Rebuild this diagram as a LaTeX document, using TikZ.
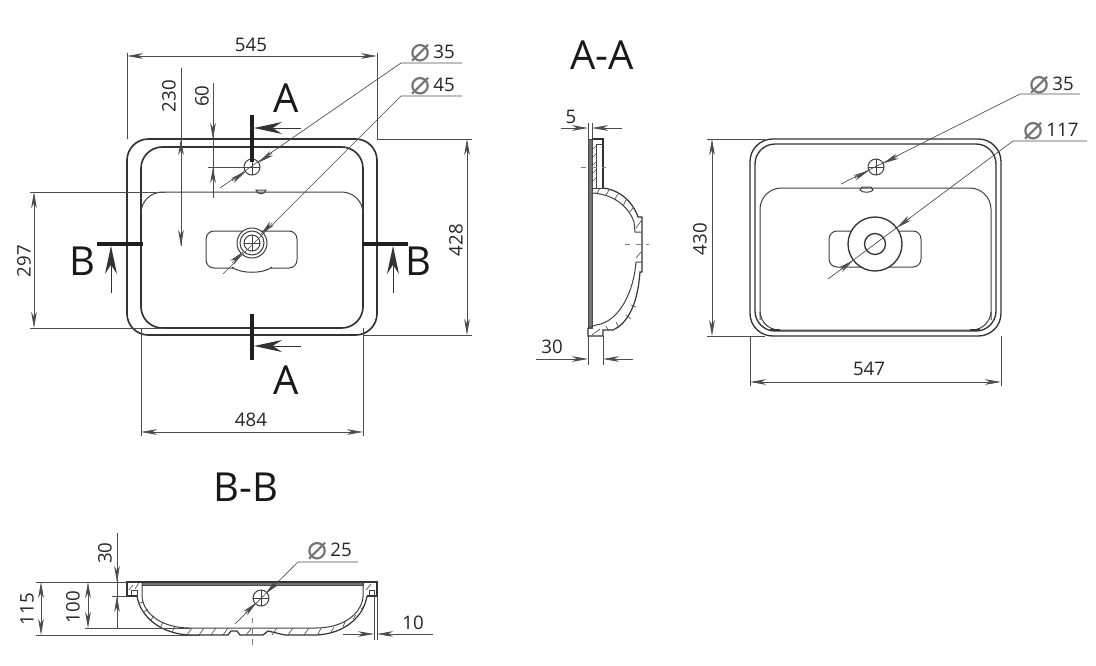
\documentclass[tikz,border=0pt]{standalone}
\usepackage{fontspec}
\setmainfont{Open Sans}
\newfontfamily\symfont{DejaVu Sans}
\usetikzlibrary{arrows.meta, calc, positioning}
\newcommand{\dia}{\raisebox{-2.5pt}{\color{black!55}\symfont\fontsize{25}{25}\selectfont ⌀}\,}
\newcommand{\dialeader}[5]{%
	\draw [dimline] (#2) -- (#3) -- (#4);
	\draw [dimline, ->] ($(#1)!#5pt+12pt!(#3)$) -- ($(#1)!#5pt!(#3)$);
	\draw [dimline, ->] ($(#1)!-#5pt-12pt!(#3)$) -- ($(#1)!-#5pt!(#3)$);
}
\tikzset
{%
outline/.style={draw=black!80, line width=1.25pt},
thinline/.style={draw=black!75, line width=0.75pt},
dimline/.style={draw=black!70, line width=0.5pt, >={Stealth[length=12pt, width=4.2pt, inset=3.5pt]}},
cutline/.style={draw=black!88, line width=2.8pt},
cutarrow/.style={draw=black!80, line width=0.7pt, -{Stealth[length=21pt, width=9pt, inset=7pt]}},
hatch/.style={draw=black!70, line width=0.5pt},
centre/.style={draw=black!50, line width=0.4pt, dash pattern=on 4pt off 4pt},
dimtext/.style={font=\fontsize{14}{15}\selectfont, text=black!85, inner sep=0pt},
bigtext/.style={font=\fontsize{30}{31}\selectfont, text=black!90, inner sep=0pt},
hole/.pic={
	\draw [thinline] (0,0) circle (8);
	\draw [thinline] (-8,0) -- (8,0) (0,-8) -- (0,8);
}
}
\begin{document}
\begin{tikzpicture}[x=0.75pt, y=-0.75pt]
	\useasboundingbox (0,0) rectangle (1096,665);
	%Top view
	\begin{scope}
		\coordinate (tophole) at (252,167);
		\coordinate (topdrain) at (252,243);
		\draw [outline, rounded corners=16pt] (127,139) rectangle (377,335);
		\draw [outline, rounded corners=16pt] (141,147) rectangle (363,328);
		\draw [thinline, rounded corners=16pt] (141,214) -- (141,192) -- (363,192) -- (363,214);
		\draw [thinline] (256,190) .. controls (257,195) and (265,195) .. (266,190) -- cycle;
		\draw [thinline, rounded corners=6pt] (206,231) rectangle (297,268);
		\draw [thinline, fill=white] (232,267) .. controls (240,274) and (264,274) .. (272,267);
		\draw [thinline, fill=white] (topdrain) circle (15);
		\draw [thinline] (topdrain) circle (12);
		\pic at (topdrain) {hole};
		\pic at (tophole) {hole};
		%Section marks
		\draw [cutline] (252,115) -- (252,162);
		\draw [cutline] (252,314) -- (252,360);
		\draw [cutline] (97,244) -- (143,244);
		\draw [cutline] (362,244) -- (408,244);
		\draw [cutarrow] (301,128) -- (254,128);
		\draw [cutarrow] (301,346) -- (254,346);
		\draw [cutarrow] (111,293) -- (111,246);
		\draw [cutarrow] (393,293) -- (393,246);
		\node [bigtext] (mark1) at (286,98) {A};
		\node [bigtext] (mark2) at (286,380) {A};
		\node [bigtext] (mark3) at (82,261) {B};
		\node [bigtext] (mark4) at (418,261) {B};
		%Dimensions
		\draw [dimline] (127,53) -- (127,139) (377,53) -- (377,139);
		\draw [dimline, <->] (127,56) -- (377,56);
		\node [dimtext] (top545) at (251,45) {545};
		\draw [dimline] (377,139) -- (472,139) (363,335) -- (472,335);
		\draw [dimline, <->] (467,139) -- (467,335);
		\node [dimtext, rotate=90] (top428) at (456,240) {428};
		\draw [dimline] (30,192) -- (165,192) (30,328) -- (165,328);
		\draw [dimline, <->] (34,192) -- (34,328);
		\node [dimtext, rotate=90] (top297) at (24,261) {297};
		\draw [dimline] (141,328) -- (141,436) (363,328) -- (363,436);
		\draw [dimline, <->] (141,432) -- (363,432);
		\node [dimtext] (top484) at (251,420) {484};
		\draw [dimline] (181,68) -- (181,246);
		\draw [dimline, ->] (181,155) -- (181,139);
		\draw [dimline, ->] (181,230) -- (181,246);
		\node [dimtext, rotate=90] (top230) at (169,96) {230};
		\draw [dimline] (213,83) -- (213,198) (208,167) -- (252,167);
		\draw [dimline, ->] (213,123) -- (213,139);
		\draw [dimline, ->] (213,183) -- (213,167);
		\node [dimtext, rotate=90] (top60) at (202,96) {60};
		\dialeader{tophole}{220,188}{401,63}{462,63}{6}
		\dialeader{topdrain}{223,274}{401,96}{462,96}{9}
		\node [dimtext, anchor=base west] (topd35) at (410,58) {\dia 35};
		\node [dimtext, anchor=base west] (topd45) at (410,91) {\dia 45};
	\end{scope}
	
	%Section A-A
	\begin{scope}
		\node [bigtext] (titleA) at (602,55) {A-A};
		\draw [draw=black!70, fill=black!55, line width=0.5pt] (588,139) rectangle (592,328);
		\draw [outline, line width=0.9pt] (592,139) -- (603,139) -- (603,188);
		\draw [thinline] (596,188) -- (596,144) -- (603,144);
		\draw [outline, line width=0.9pt] (603,188) .. controls (620,190) and (633,202) .. (638,217)
		-- (642,217) -- (642,272) -- (640,272) .. controls (638,300) and (630,322) .. (613,330) -- (603,330) -- (603,336) -- (588,336) -- (588,328);
		\draw [thinline] (592,193) .. controls (612,194) and (628,205) .. (634,222) -- (635,232) -- (641,232)
		(641,262) -- (636,262) .. controls (634,290) and (620,322) .. (596,325) -- (588,328);
		\draw [thinline] (592,188) -- (603,188);
		\foreach \ya in {148,156,164,172,180}
			\draw [hatch] (592,\ya+2) -- (596,\ya-2);
		\foreach \xa/\ya/\xb/\yb in {597/193/600/188, 606/195/609/190, 615/199/618/194, 623/206/626/200, 629/213/633/208,
			636/228/641/221, 636/258/641/252, 631/305/636/307, 626/315/631/319, 616/322/619/328, 606/326/608/330, 592/335/600/329}
			\draw [hatch] (\xa,\ya) -- (\xb,\yb);
		\draw [centre] (581,167) -- (606,167);
		\draw [centre] (625,244) -- (649,244);
		%Dimensions
		\draw [dimline] (588,123) -- (588,139) (592,123) -- (592,139);
		\draw [dimline, ->] (561,128) -- (588,128);
		\draw [dimline, ->] (622,128) -- (592,128);
		\node [dimtext] (sec5) at (571,117) {5};
		\draw [dimline] (588,336) -- (588,365) (603,336) -- (603,365);
		\draw [dimline, ->] (536,359) -- (588,359);
		\draw [dimline, ->] (633,359) -- (603,359);
		\node [dimtext] (sec30) at (552,347) {30};
	\end{scope}
	
	%Back view
	\begin{scope}
		\coordinate (backhole) at (876,167);
		\coordinate (backdrain) at (875,244);
		\draw [outline, line width=1pt, rounded corners=17pt] (750,139) rectangle (1001,336);
		\draw [outline, line width=1pt, rounded corners=15pt] (755,144) rectangle (996,331);
		\draw [thinline, rounded corners=16pt] (760,320) -- (760,188) -- (991,188) -- (991,320);
		\draw [thinline] (760,312) .. controls (761,322) and (768,329) .. (778,330) -- (973,330) .. controls (983,329) and (990,322) .. (991,312);
		\draw [outline] (770,330) -- (780,330) (970,330) -- (980,330);
		\draw [thinline] (860,190) .. controls (862,193) and (871,193) .. (873,190) -- (871,187) -- (862,187) -- cycle;
		\draw [thinline, rounded corners=6pt] (829,231) rectangle (921,267);
		\draw [outline, line width=1pt, fill=white] (backdrain) circle (27);
		\draw [outline, line width=1pt] (backdrain) circle (10.5);
		\pic at (backhole) {hole};
		%Dimensions
		\draw [dimline] (707,139) -- (765,139) (707,336) -- (765,336);
		\draw [dimline, <->] (712,139) -- (712,336);
		\node [dimtext, rotate=90] (back430) at (700,239) {430};
		\draw [dimline] (750,336) -- (750,386) (1001,336) -- (1001,386);
		\draw [dimline, <->] (750,382) -- (1001,382);
		\node [dimtext] (back547) at (869,369) {547};
		\dialeader{backhole}{841,184}{1020,94}{1080,94}{6}
		\dialeader{backdrain}{828,279}{1013,141}{1087,141}{20.3}
		\node [dimtext, anchor=base west] (backd35) at (1029,90) {\dia 35};
		\node [dimtext, anchor=base west] (backd117) at (1023,136) {\dia 117};
	\end{scope}
	
	%Section B-B
	\begin{scope}
		\node [bigtext] (titleB) at (246,487) {B-B};
		\coordinate (sechole) at (261,598);
		\draw [draw=black!70, fill=black!55, line width=0.4pt] (142,582) rectangle (363,585);
		\draw [outline, line width=0.9pt] (137,596) -- (127,596) -- (127,582) -- (377,582) -- (377,596) -- (367,596);
		\draw [thinline] (131,596) -- (131,590) -- (137,590) -- (137,596);
		\draw [thinline] (142,582) -- (142,597) .. controls (144,615) and (163,628) .. (190,628)
		-- (316,628) .. controls (342,628) and (361,615) .. (363,597) -- (363,582);
		\draw [outline, line width=0.9pt] (137,596) .. controls (140,616) and (160,634) .. (190,635) -- (228,635) -- (231,631) -- (237,631) -- (240,635) -- (263,635) -- (268,631) -- (285,635)
		-- (316,635) .. controls (345,634) and (364,616) .. (367,596);
		\draw [thinline] (369,596) -- (369,590) -- (374,590) -- (374,596);
		\foreach \xa/\ya/\xb/\yb in {133/585/129/590, 139/583/135/589, 366/590/371/584, 139/603/144/602, 143/613/148/609, 150/621/154/616, 160/628/163/622, 172/632/175/626,
			187/635/192/628, 199/635/204/628, 211/635/216/628, 223/635/228/628, 246/635/251/629, 272/635/277/628, 288/635/293/628, 304/635/309/628,
			318/634/321/628, 331/632/334/627, 343/627/345/622, 353/619/356/615, 361/609/364/606}
			\draw [hatch] (\xa,\ya) -- (\xb,\yb);
		\pic at (sechole) {hole};
		\draw [centre] (252,618) -- (252,645);
		%Dimensions
		\draw [dimline] (36,582) -- (127,582) (36,635) -- (200,635);
		\draw [dimline, <->] (41,582) -- (41,635);
		\node [dimtext, rotate=90] (sec115) at (27,609) {115};
		\draw [dimline] (85,628) -- (190,628);
		\draw [dimline, <->] (88,582) -- (88,628);
		\node [dimtext, rotate=90] (sec100) at (73,607) {100};
		\draw [dimline] (117,533) -- (117,628) (112,596) -- (127,596);
		\draw [dimline, ->] (117,566) -- (117,582);
		\draw [dimline, ->] (117,612) -- (117,596);
		\node [dimtext, rotate=90] (sec30b) at (105,553) {30};
		\draw [dimline] (374,596) -- (374,640) (377,596) -- (377,640);
		\draw [dimline, ->] (343,634) -- (374,634);
		\draw [dimline, ->] (433,634) -- (377,634);
		\node [dimtext] (sec10) at (413,623) {10};
		\dialeader{sechole}{235,624}{298,562}{358,562}{4.5}
		\node [dimtext, anchor=base west] (secd25) at (307,556) {\dia 25};
	\end{scope}
\end{tikzpicture}
\end{document}
